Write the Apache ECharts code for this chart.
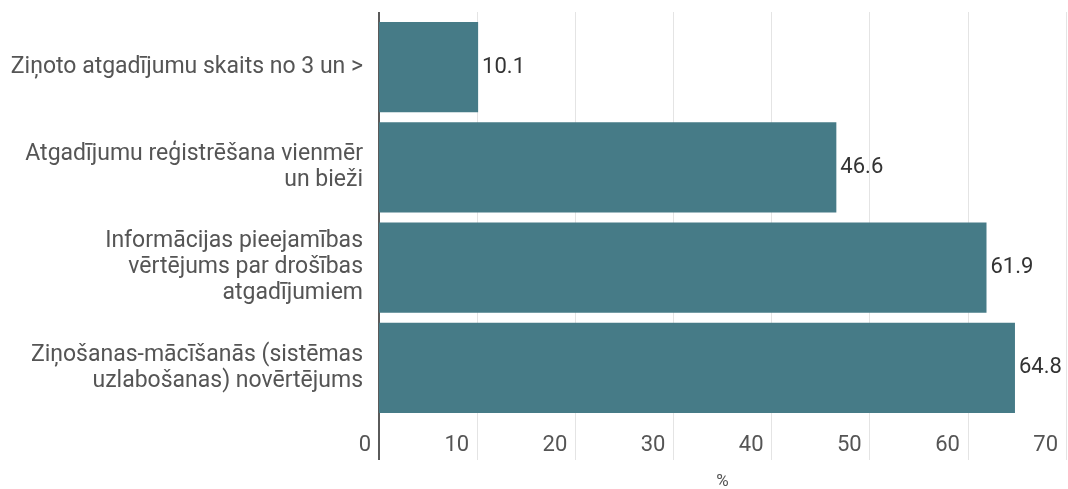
<!DOCTYPE html>
<html>
<head>
<meta charset="utf-8">
<script src="https://cdn.jsdelivr.net/npm/echarts@6/dist/echarts.min.js"></script>
<style>
  html, body { margin: 0; padding: 0; background: #fff; }
  #chart-box { width: 1068px; height: 489px; }
</style>
</head>
<body>
<div id="chart-box"></div>
<script>
// data
const categories = [
  'Ziņoto atgadījumu skaits no 3 un >',
  'Atgadījumu reģistrēšana vienmēr\nun bieži',
  'Informācijas pieejamības\nvērtējums par drošības\natgadījumiem',
  'Ziņošanas-mācīšanās (sistēmas\nuzlabošanas) novērtējums'
];
const values = [10.1, 46.6, 61.9, 64.8];
const axisMin = 0;
const axisMax = 70;
const axisStep = 10;
const axisName = '%';

const gridColor = '#e4e4e4';
const axisDark = '#5a5a5a';
const font = 'Roboto, "Noto Sans", sans-serif';

function renderChart() {
  const myChart = echarts.init(document.getElementById('chart-box'));

  // shared scale for the helper axes (tick extensions above / below the grid)
  const scale = { type: 'value', min: axisMin, max: axisMax, interval: axisStep };

  const option = {
    animation: false,
    grid: {
      left: 379,
      right: 2,
      top: 17,
      bottom: 71,
      containLabel: false,
      outerBoundsMode: 'none'
    },
    xAxis: [
      {
        ...scale,
        position: 'bottom',
        name: axisName,
        nameLocation: 'middle',
        nameGap: 55,
        nameTextStyle: { fontFamily: font, fontSize: 17, color: '#555' },
        axisLine: { show: false },
        axisTick: { show: true, length: 42, lineStyle: { color: gridColor } },
        splitLine: { show: true, lineStyle: { color: gridColor, width: 1 } },
        axisLabel: {
          fontFamily: font,
          fontSize: 22,
          color: '#555',
          align: 'right',
          padding: [0, 8, 0, 0],
          margin: 16
        }
      },
      {
        ...scale,
        position: 'top',
        axisLine: { show: false },
        axisTick: { show: true, length: 5, lineStyle: { color: gridColor } },
        axisLabel: { show: false },
        splitLine: { show: false }
      },
      {
        ...scale,
        position: 'bottom',
        axisLine: { show: false },
        axisTick: { show: true, length: 42, customValues: [axisMin], lineStyle: { color: axisDark, width: 2 } },
        axisLabel: { show: false },
        splitLine: { show: false }
      },
      {
        ...scale,
        position: 'top',
        axisLine: { show: false },
        axisTick: { show: true, length: 5, customValues: [axisMin], lineStyle: { color: axisDark, width: 2 } },
        axisLabel: { show: false },
        splitLine: { show: false }
      }
    ],
    yAxis: {
      type: 'category',
      data: categories,
      inverse: true,
      axisLine: { show: true, lineStyle: { color: axisDark, width: 2 } },
      axisTick: { show: false },
      axisLabel: {
        fontFamily: font,
        fontSize: 23,
        lineHeight: 26,
        color: '#555',
        align: 'right',
        margin: 16
      }
    },
    series: [
      {
        type: 'bar',
        xAxisIndex: 0,
        data: values,
        barCategoryGap: '10%',
        itemStyle: { color: '#467b87' },
        label: {
          show: true,
          position: 'right',
          distance: 4,
          fontFamily: font,
          fontSize: 22,
          color: '#333'
        }
      }
    ]
  };

  myChart.setOption(option);
}

renderChart();
</script>
</body>
</html>
